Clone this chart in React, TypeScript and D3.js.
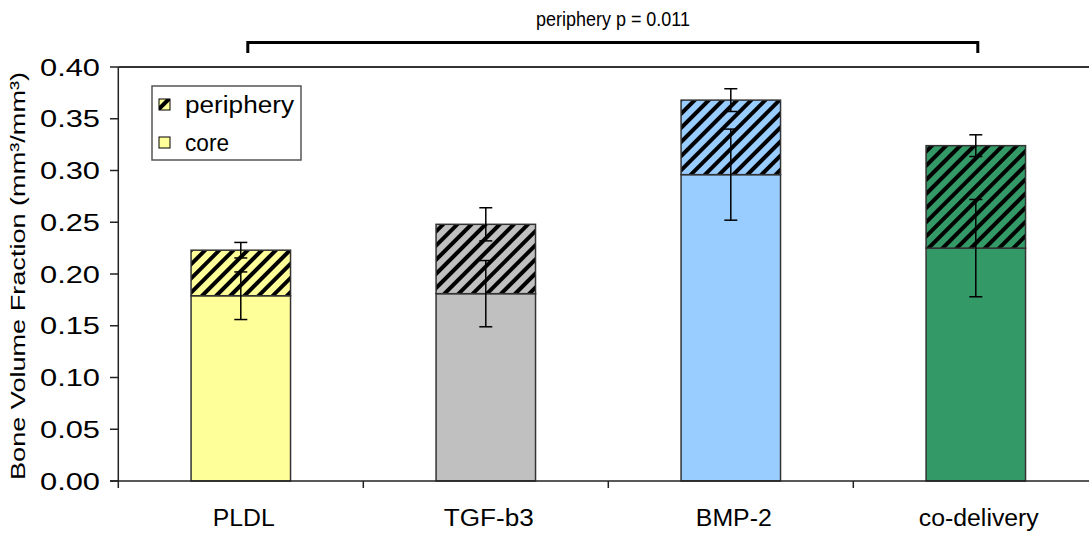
import React from "react";
import * as d3 from "d3";

const categories = ["PLDL", "TGF-b3", "BMP-2", "co-delivery"];
const coreValues = [0.179, 0.181, 0.296, 0.225];
const coreErrors = [0.023, 0.032, 0.044, 0.047];
const peripheryValues = [0.044, 0.067, 0.072, 0.099];
const peripheryErrors = [0.0075, 0.016, 0.011, 0.0105];
const barColors = ["#FFFF99", "#C0C0C0", "#99CCFF", "#339966"];
const yTicks = [0, 0.05, 0.1, 0.15, 0.2, 0.25, 0.3, 0.35, 0.4];
const catLabelWidths = [62, 90, 76, 120];
const seriesNames = ["periphery", "core"];
const titleText = "periphery p = 0.011";
const yLabel = "Bone Volume Fraction (mm³/mm³)";

const W = 1089;
const H = 533;
const plotLeft = 118.3;
const plotRight = 1098.3;
const plotTop = 67;
const plotBottom = 481;
const FONT = "Arial, 'Liberation Sans', Helvetica, sans-serif";

export default function App() {
  const x = d3
    .scaleBand<string>()
    .domain(categories)
    .range([plotLeft, plotRight])
    .paddingInner(0.594)
    .paddingOuter(0.297);
  const y = d3.scaleLinear().domain([0, 0.4]).range([plotBottom, plotTop]);
  const step = x.step();
  const bw = x.bandwidth();
  const capW = 13;

  const boundaries = categories.map((_, i) => plotLeft + i * step);

  return (
    <div style={{ position: "absolute", left: 0, top: 0 }}>
      <svg width={W} height={H} style={{ display: "block", fontFamily: FONT }}>
        <defs>
          {barColors.map((c, i) => (
            <pattern
              key={i}
              id={`hatch${i}`}
              patternUnits="userSpaceOnUse"
              width={10}
              height={10}
              patternTransform="rotate(45)"
            >
              <rect width={10} height={10} fill={c} />
              <line x1={2} y1={0} x2={2} y2={10} stroke="#000" strokeWidth={4} />
            </pattern>
          ))}
          <pattern
            id="hatchLegend"
            patternUnits="userSpaceOnUse"
            width={10}
            height={10}
            patternTransform="translate(159,99) rotate(45)"
          >
            <rect width={10} height={10} fill={barColors[0]} />
            <line x1={7} y1={0} x2={7} y2={10} stroke="#000" strokeWidth={4} />
          </pattern>
        </defs>

        {/* plot frame top */}
        <line x1={plotLeft} y1={plotTop} x2={W} y2={plotTop} stroke="#333" strokeWidth={2} />

        {/* bars */}
        {categories.map((cat, i) => {
          const x0 = x(cat)!;
          const core = coreValues[i];
          const tot = core + peripheryValues[i];
          return (
            <g key={cat}>
              <rect
                x={x0}
                y={y(core)}
                width={bw}
                height={y(0) - y(core)}
                fill={barColors[i]}
                stroke="#333"
                strokeWidth={1.5}
              />
              <rect
                x={x0}
                y={y(tot)}
                width={bw}
                height={y(core) - y(tot)}
                fill={`url(#hatch${i})`}
                stroke="#333"
                strokeWidth={1.5}
              />
            </g>
          );
        })}

        {/* error bars */}
        {categories.map((cat, i) => {
          const cx = x(cat)! + bw / 2;
          const core = coreValues[i];
          const tot = core + peripheryValues[i];
          const items = [
            [core, coreErrors[i]],
            [tot, peripheryErrors[i]],
          ];
          return (
            <g key={cat} stroke="#000" strokeWidth={1.5}>
              {items.map(([v, e], j) => (
                <g key={j}>
                  <line x1={cx} x2={cx} y1={y(v - e)} y2={y(v + e)} />
                  <line x1={cx - capW / 2} x2={cx + capW / 2} y1={y(v - e)} y2={y(v - e)} />
                  <line x1={cx - capW / 2} x2={cx + capW / 2} y1={y(v + e)} y2={y(v + e)} />
                </g>
              ))}
            </g>
          );
        })}

        {/* y axis */}
        <line x1={plotLeft} y1={plotTop} x2={plotLeft} y2={plotBottom} stroke="#222" strokeWidth={1.5} />
        {yTicks.map((t) => (
          <g key={t}>
            <line x1={110} x2={plotLeft} y1={y(t)} y2={y(t)} stroke="#222" strokeWidth={1.5} />
            <text
              x={100}
              y={y(t) + 8.5}
              textAnchor="end"
              fontSize={24}
              textLength={60}
              lengthAdjust="spacingAndGlyphs"
              fill="#000"
            >
              {t.toFixed(2)}
            </text>
          </g>
        ))}

        {/* x axis */}
        <line x1={110} y1={plotBottom} x2={W} y2={plotBottom} stroke="#222" strokeWidth={1.5} />
        {boundaries.map((b, i) => (
          <line key={i} x1={b} x2={b} y1={plotBottom} y2={plotBottom + 7} stroke="#222" strokeWidth={1.5} />
        ))}
        {categories.map((cat, i) => (
          <text
            key={cat}
            x={x(cat)! + bw / 2 + 3}
            y={526}
            textAnchor="middle"
            fontSize={23}
            textLength={catLabelWidths[i]}
            lengthAdjust="spacingAndGlyphs"
            fill="#000"
          >
            {cat}
          </text>
        ))}

        {/* y label */}
        <text
          transform="translate(25,276) rotate(-90)"
          textAnchor="middle"
          fontSize={21}
          textLength={408}
          lengthAdjust="spacingAndGlyphs"
          fill="#000"
        >
          {yLabel}
        </text>

        {/* legend */}
        <rect x={152} y={86} width={149} height={74} fill="#fff" stroke="#555" strokeWidth={1.5} />
        <rect x={159} y={99} width={11} height={11} fill="url(#hatchLegend)" stroke="#000" strokeWidth={1} />
        <rect x={159} y={137} width={11} height={11} fill={barColors[0]} stroke="#000" strokeWidth={1} />
        <text x={185} y={113} fontSize={23} textLength={109} lengthAdjust="spacingAndGlyphs" fill="#000">
          {seriesNames[0]}
        </text>
        <text x={185} y={151} fontSize={23} textLength={44} lengthAdjust="spacingAndGlyphs" fill="#000">
          {seriesNames[1]}
        </text>

        {/* significance bracket */}
        <path
          d={`M${x(categories[0])! + bw / 2 + 7},53 V42.5 H${x(categories[3])! + bw / 2 + 2} V53`}
          fill="none"
          stroke="#000"
          strokeWidth={3}
        />
        <text
          x={613}
          y={26}
          textAnchor="middle"
          fontSize={21}
          textLength={154}
          lengthAdjust="spacingAndGlyphs"
          fill="#000"
        >
          {titleText}
        </text>
      </svg>
    </div>
  );
}
